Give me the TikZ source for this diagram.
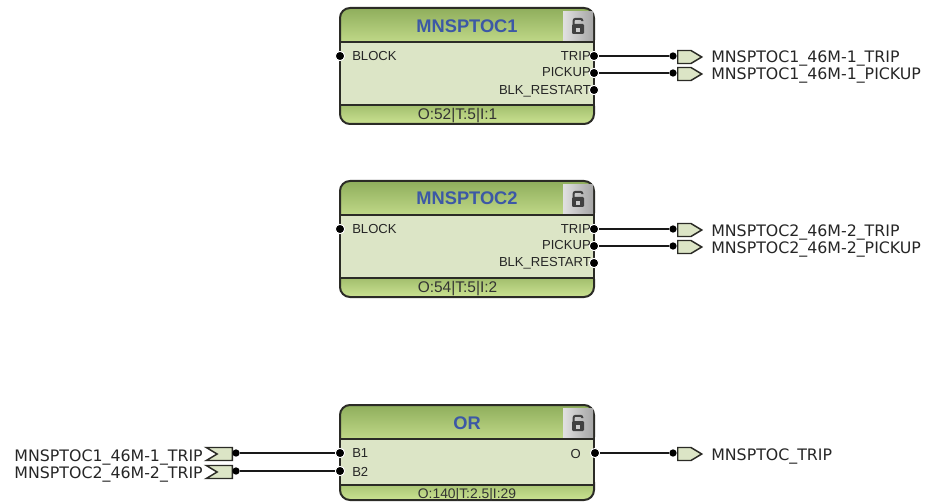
\documentclass[tikz,border=0pt]{standalone}
\usepackage{fontspec}
\setmainfont{Liberation Sans}
\newfontfamily\wirefont{DejaVu Sans}
\usetikzlibrary{shapes.symbols,positioning}
\definecolor{blockdark}{HTML}{8FAE5C}
\definecolor{blocklight}{HTML}{CBE292}
\definecolor{blockfill}{HTML}{DCE5C6}
\definecolor{blockline}{HTML}{2B2B26}
\definecolor{titleblue}{HTML}{3C58A6}
\tikzset{
  blockhead/.style={draw=blockline, line width=1.5pt, rounded corners=7.5pt, minimum width=190.5pt, minimum height=31.5pt, inner sep=0pt, top color=blockdark, bottom color=blocklight},
  blockfoot/.style={draw=blockline, line width=1.5pt, rounded corners=7.5pt, minimum width=190.5pt, minimum height=21pt, inner sep=0pt, top color=blockdark, bottom color=blocklight},
  blockbody/.style={draw=blockline, line width=1.5pt, fill=blockfill, minimum width=190.5pt, inner sep=0pt},
  title/.style={text=titleblue, font=\fontsize{13.7pt}{14pt}\selectfont\bfseries},
  port/.style={font=\fontsize{9.8pt}{11pt}\selectfont, inner sep=0pt, text=black!85},
  info/.style={font=\fontsize{11.6pt}{12pt}\selectfont, inner sep=0pt, text=black!80},
  pin/.style={circle, fill=black, draw=white, line width=0.7pt, minimum size=7pt, inner sep=0pt},
  tagdot/.style={circle, fill=black, minimum size=5.5pt, inner sep=0pt},
  wire/.style={line width=1.1pt, black!90},
  outtag/.style={signal, signal to=east, signal pointer angle=62, draw=blockline, line width=1.1pt, fill=blockfill, minimum width=18pt, minimum height=9.75pt, inner sep=0pt},
  intag/.style={signal, signal from=west, signal to=nowhere, signal pointer angle=62, draw=blockline, line width=1.1pt, fill=blockfill, minimum width=19.5pt, minimum height=9.75pt, inner sep=0pt},
  wirelabel/.style={font=\wirefont\fontsize{11.85pt}{12pt}\selectfont, inner sep=0pt, text=black!85},
  lockbox/.style={minimum width=22.5pt, minimum height=21.5pt, inner sep=0pt, left color=white!88!black, right color=black!35},
  padlock/.pic={
    \fill[black!75, rounded corners=0.8pt] (-4.5pt,1.5pt) rectangle (4.5pt,-6pt);
    \draw[black!75, line width=1.5pt, rounded corners=1.5pt] (-3.3pt,1.5pt) -- (-3.3pt,5.4pt) -- (3.3pt,5.4pt) -- (3.3pt,3.6pt);
    \fill[black!20] (-1.5pt,-1.6pt) rectangle (1.5pt,-4.2pt);
  }
}

\begin{document}
\begin{tikzpicture}[x=0.75pt, y=-0.75pt]
    \useasboundingbox (0,0) rectangle (930,502);

    % MNSPTOC1
    \node[blockfoot] (foot1) at (467,110) {};
    \node[blockhead] (head1) at (467,29) {};
    \node[blockbody, minimum height=47.25pt] (body1) at (467,73.5) {};
    \node[title] (title1) at (467,26) {MNSPTOC1};
    \node[lockbox] (lock1) at (578,26) {};
    \pic at (lock1) {padlock};
    \node[info] (info1) at (457.5,115.5) {O:52|T:5|I:1};
    \node[pin] (blk1) at (340,56) {};
    \node[pin] (trip1) at (594,56) {};
    \node[pin] (pick1) at (594,73) {};
    \node[pin] (rest1) at (594,90) {};
    \node[port, anchor=west] (blktxt1) at (352,56.5) {BLOCK};
    \node[port, anchor=east] (triptxt1) at (591,56.5) {TRIP};
    \node[port, anchor=east] (picktxt1) at (591,72.5) {PICKUP};
    \node[port, anchor=east] (resttxt1) at (591,91.5) {BLK\_RESTART};
    \node[outtag, anchor=west] (tagtrip1) at (677,57) {};
    \node[outtag, anchor=west] (tagpick1) at (677,74) {};
    \node[tagdot] (dottrip1) at (673,56) {};
    \node[tagdot] (dotpick1) at (673,73) {};
    \node[wirelabel, anchor=west] (labtrip1) at (711,59) {MNSPTOC1\_46M-1\_TRIP};
    \node[wirelabel, anchor=west] (labpick1) at (711,76) {MNSPTOC1\_46M-1\_PICKUP};
    \draw[wire] (trip1) -- (dottrip1);
    \draw[wire] (pick1) -- (dotpick1);

    % MNSPTOC2
    \node[blockfoot] (foot2) at (467,283) {};
    \node[blockhead] (head2) at (467,202) {};
    \node[blockbody, minimum height=47.25pt] (body2) at (467,246.5) {};
    \node[title] (title2) at (467,198) {MNSPTOC2};
    \node[lockbox] (lock2) at (578,199) {};
    \pic at (lock2) {padlock};
    \node[info] (info2) at (457.5,288.5) {O:54|T:5|I:2};
    \node[pin] (blk2) at (340,229) {};
    \node[pin] (trip2) at (594,229) {};
    \node[pin] (pick2) at (594,246) {};
    \node[pin] (rest2) at (594,263) {};
    \node[port, anchor=west] (blktxt2) at (352,229.5) {BLOCK};
    \node[port, anchor=east] (triptxt2) at (591,229.5) {TRIP};
    \node[port, anchor=east] (picktxt2) at (591,245.5) {PICKUP};
    \node[port, anchor=east] (resttxt2) at (591,263.5) {BLK\_RESTART};
    \node[outtag, anchor=west] (tagtrip2) at (677,230) {};
    \node[outtag, anchor=west] (tagpick2) at (677,247) {};
    \node[tagdot] (dottrip2) at (673,229) {};
    \node[tagdot] (dotpick2) at (673,246) {};
    \node[wirelabel, anchor=west] (labtrip2) at (711,232) {MNSPTOC2\_46M-2\_TRIP};
    \node[wirelabel, anchor=west] (labpick2) at (711,249) {MNSPTOC2\_46M-2\_PICKUP};
    \draw[wire] (trip2) -- (dottrip2);
    \draw[wire] (pick2) -- (dotpick2);

    % OR
    \node[blockfoot] (foot3) at (467,486) {};
    \node[blockhead] (head3) at (467,426) {};
    \node[blockbody, minimum height=34.5pt] (body3) at (467,462) {};
    \node[title] (title3) at (467,423) {OR};
    \node[lockbox] (lock3) at (578,423) {};
    \pic at (lock3) {padlock};
    \node[info, font=\fontsize{10.4pt}{12pt}\selectfont] (info3) at (467,494.5) {O:140|T:2.5|I:29};
    \node[pin] (b1) at (340,453) {};
    \node[pin] (b2) at (340,471) {};
    \node[pin] (o) at (595,453) {};
    \node[port, anchor=west] (b1txt) at (352,453.5) {B1};
    \node[port, anchor=west] (b2txt) at (352,471.5) {B2};
    \node[port, anchor=east] (otxt) at (581,453.5) {O};
    \node[intag, anchor=east] (tagb1) at (233,454) {};
    \node[intag, anchor=east] (tagb2) at (233,472) {};
    \node[tagdot] (dotb1) at (236,453) {};
    \node[tagdot] (dotb2) at (236,471) {};
    \node[outtag, anchor=west] (tago) at (677,454) {};
    \node[tagdot] (doto) at (673,453) {};
    \node[wirelabel, anchor=east] (labb1) at (203,457) {MNSPTOC1\_46M-1\_TRIP};
    \node[wirelabel, anchor=east] (labb2) at (203,474) {MNSPTOC2\_46M-2\_TRIP};
    \node[wirelabel, anchor=west] (labo) at (711,456) {MNSPTOC\_TRIP};
    \draw[wire] (dotb1) -- (b1);
    \draw[wire] (dotb2) -- (b2);
    \draw[wire] (o) -- (doto);
\end{tikzpicture}
\end{document}
